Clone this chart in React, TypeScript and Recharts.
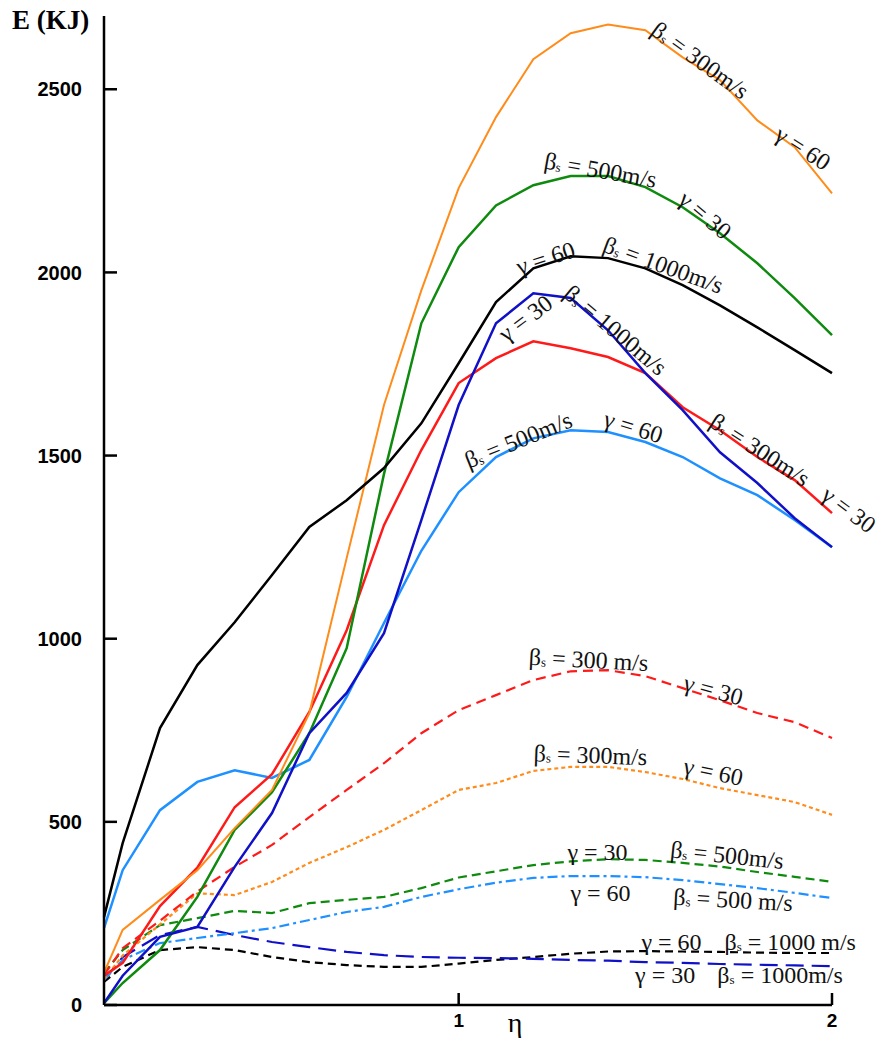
import React from "react"
import { LineChart, Line, XAxis, YAxis, ReferenceDot, Customized } from "recharts"

// η sample points
const etaValues = [0.05, 0.1, 0.2, 0.3, 0.4, 0.5, 0.6, 0.7, 0.8, 0.9, 1.0, 1.1, 1.2, 1.3, 1.4, 1.5, 1.6, 1.7, 1.8, 1.9, 2.0]

// solid curves (E in KJ)
const orangeSolid = [88, 205, 287, 368, 483, 587, 797, 1220, 1638, 1951, 2230, 2424, 2582, 2653, 2677, 2661, 2587, 2525, 2415, 2342, 2216]
const greenSolid = [5, 60, 150, 295, 478, 581, 742, 974, 1450, 1861, 2069, 2183, 2238, 2263, 2263, 2233, 2178, 2107, 2025, 1930, 1829]
const blackSolid = [240, 442, 756, 928, 1045, 1174, 1305, 1378, 1466, 1588, 1752, 1919, 2011, 2044, 2039, 2011, 1965, 1910, 1850, 1788, 1725]
const darkBlueSolid = [5, 80, 186, 213, 377, 524, 742, 852, 1015, 1324, 1638, 1861, 1943, 1930, 1842, 1725, 1624, 1509, 1425, 1329, 1250]
const redSolid = [80, 115, 270, 375, 540, 630, 800, 1023, 1310, 1515, 1698, 1766, 1812, 1793, 1769, 1725, 1632, 1569, 1496, 1433, 1343]
const lightBlueSolid = [210, 368, 532, 609, 641, 620, 669, 841, 1043, 1240, 1400, 1496, 1547, 1569, 1564, 1537, 1496, 1438, 1392, 1324, 1250]

// dashed / dotted curves
const redDashed = [82, 155, 230, 310, 377, 437, 513, 587, 660, 742, 805, 846, 887, 911, 914, 898, 865, 832, 797, 772, 729]
const orangeDotted = [70, 135, 220, 305, 300, 336, 388, 431, 478, 532, 587, 606, 639, 650, 650, 636, 617, 592, 573, 554, 519]
const greenDashed = [87, 150, 218, 237, 257, 251, 278, 287, 295, 319, 348, 365, 382, 392, 398, 396, 388, 378, 363, 350, 336]
const lightBlueDashDot = [68, 123, 169, 183, 196, 210, 232, 254, 268, 295, 316, 334, 347, 352, 352, 349, 341, 330, 319, 306, 292]
const darkBlueDashed = [68, 131, 191, 213, 191, 172, 158, 145, 136, 131, 129, 128, 126, 123, 121, 117, 115, 112, 110, 108, 106]
const blackDashed = [63, 104, 150, 158, 150, 131, 117, 109, 104, 104, 113, 123, 131, 140, 146, 147, 146, 145, 143, 142, 142]

const yTicks = [0, 500, 1000, 1500, 2000, 2500]
const xTicks = [1, 2]

// curve annotations: [eta, E, angle, symbol, value]
const curveLabels: [number, number, number, string, string][] = [
  [1.647, 2579, 36, "β", "300m/s"],
  [1.922, 2339, 33, "γ", "60"],
  [1.38, 2279, 10, "β", "500m/s"],
  [1.66, 2156, 40, "γ", "30"],
  [1.233, 2039, -18, "γ", "60"],
  [1.548, 2020, 20, "β", "1000m/s"],
  [1.179, 1875, -37, "γ", "30"],
  [1.42, 1842, 40, "β", "1000m/s"],
  [1.807, 1515, 33, "β", "300m/s"],
  [2.045, 1352, 37, "γ", "30"],
  [1.16, 1542, -22, "β", "500m/s"],
  [1.468, 1578, 17, "γ", "60"],
  [1.348, 942, 3, "β", "300 m/s"],
  [1.682, 860, 15, "γ", "30"],
  [1.353, 682, 2, "β", "300m/s"],
  [1.682, 636, 12, "γ", "60"],
  [1.372, 418, 0, "γ", "30"],
  [1.719, 409, 6, "β", "500m/s"],
  [1.38, 306, 0, "γ", "60"],
  [1.735, 287, 3, "β", "500 m/s"],
  [1.57, 172, 0, "γ", "60"],
  [1.888, 172, 0, "β", "1000 m/s"],
  [1.553, 82, 0, "γ", "30"],
  [1.861, 82, 0, "β", "1000m/s"],
]

const data = etaValues.map((eta, i) => ({
  eta,
  orangeSolid: orangeSolid[i],
  greenSolid: greenSolid[i],
  blackSolid: blackSolid[i],
  darkBlueSolid: darkBlueSolid[i],
  redSolid: redSolid[i],
  lightBlueSolid: lightBlueSolid[i],
  redDashed: redDashed[i],
  orangeDotted: orangeDotted[i],
  greenDashed: greenDashed[i],
  lightBlueDashDot: lightBlueDashDot[i],
  darkBlueDashed: darkBlueDashed[i],
  blackDashed: blackDashed[i],
}))

const series = [
  { key: "blackDashed", color: "#000000", width: 2.2, dash: "8 5" },
  { key: "darkBlueDashed", color: "#1010C8", width: 2.2, dash: "18 8" },
  { key: "lightBlueDashDot", color: "#1E90FF", width: 2.2, dash: "10 4 3 4" },
  { key: "greenDashed", color: "#0E8A0E", width: 2.2, dash: "9 5" },
  { key: "orangeDotted", color: "#FF8C1A", width: 2.2, dash: "4 3" },
  { key: "redDashed", color: "#FF1A1A", width: 2.2, dash: "10 6" },
  { key: "lightBlueSolid", color: "#1E90FF", width: 2.5 },
  { key: "redSolid", color: "#FF1A1A", width: 2.5 },
  { key: "greenSolid", color: "#0E8A0E", width: 2.5 },
  { key: "orangeSolid", color: "#FF8C1A", width: 2 },
  { key: "blackSolid", color: "#000000", width: 2.5 },
  { key: "darkBlueSolid", color: "#1010C8", width: 2.5 },
]

const SERIF = "'Liberation Serif', 'Times New Roman', serif"
const SANS = "'Liberation Sans', Arial, sans-serif"

function CurveText({ cx, cy, angle, sym, value }: any) {
  if (cx == null || cy == null) return null
  return (
    <text
      x={cx}
      y={cy}
      transform={`rotate(${angle}, ${cx}, ${cy})`}
      textAnchor="middle"
      dominantBaseline="central"
      fontFamily={SERIF}
      fontSize={24}
      fill="#111"
    >
      <tspan>{sym}</tspan>
      {sym === "β" ? (
        <>
          <tspan fontSize={13} dy={4}>s</tspan>
          <tspan dy={-4}>{` = ${value}`}</tspan>
        </>
      ) : (
        <tspan>{` = ${value}`}</tspan>
      )}
    </text>
  )
}

function AxisTitles() {
  return (
    <g>
      <text x={12} y={29} fontFamily={SERIF} fontWeight={700} fontSize={27} fill="#000">E (KJ)</text>
      <text x={515} y={1032} textAnchor="middle" fontFamily={SERIF} fontSize={28} fill="#000">η</text>
    </g>
  )
}

export default function App() {
  return (
    <div style={{ position: "absolute", left: 0, top: 0, width: 885, height: 1043, background: "#fff" }}>
      <LineChart
        width={885}
        height={1043}
        data={data}
        margin={{ top: 16, right: 53, bottom: 0, left: 0 }}
      >
        <XAxis
          dataKey="eta"
          type="number"
          domain={[0.05, 2]}
          ticks={xTicks}
          height={38}
          axisLine={{ stroke: "#000", strokeWidth: 2.5 }}
          tickLine={{ stroke: "#000", strokeWidth: 2.5 }}
          tickSize={-12}
          tickMargin={21}
          tick={{ fill: "#000", fontFamily: SANS, fontWeight: 700, fontSize: 19 }}
        />
        <YAxis
          type="number"
          domain={[0, 2700]}
          ticks={yTicks}
          width={104}
          axisLine={{ stroke: "#000", strokeWidth: 2.5 }}
          tickLine={{ stroke: "#000", strokeWidth: 2.5 }}
          tickSize={-13}
          tickMargin={35}
          tick={{ fill: "#000", fontFamily: SANS, fontWeight: 700, fontSize: 20 }}
        />
        {series.map((s) => (
          <Line
            key={s.key}
            dataKey={s.key}
            type="linear"
            stroke={s.color}
            strokeWidth={s.width}
            strokeDasharray={s.dash}
            dot={false}
            activeDot={false}
            isAnimationActive={false}
          />
        ))}
        {curveLabels.map(([eta, e, angle, sym, value], i) => (
          <ReferenceDot
            key={i}
            x={eta}
            y={e}
            r={0}
            ifOverflow="visible"
            shape={(p: any) => <CurveText cx={p.cx} cy={p.cy} angle={angle} sym={sym} value={value} />}
          />
        ))}
        <Customized component={<AxisTitles />} />
      </LineChart>
    </div>
  )
}
